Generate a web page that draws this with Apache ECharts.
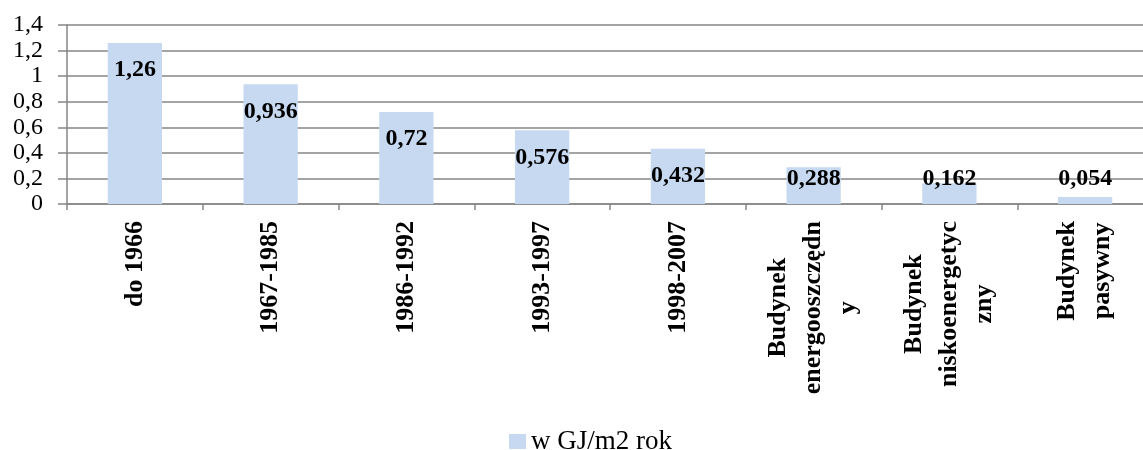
<!DOCTYPE html>
<html>
<head>
<meta charset="utf-8">
<script src="https://cdn.jsdelivr.net/npm/echarts@6/dist/echarts.min.js"></script>
<style>
html,body{margin:0;padding:0;background:#fff;overflow:hidden;width:1143px;height:450px;}
#chart{width:1153px;height:450px;}
</style>
</head>
<body>
<div id="chart"></div>
<script>
const categories = ["do 1966", "1967-1985", "1986-1992", "1993-1997", "1998-2007", "Budynek\nenergooszczędn\ny", "Budynek\nniskoenergetyc\nzny", "Budynek\npasywny"];
const values = [1.26, 0.936, 0.72, 0.576, 0.432, 0.288, 0.162, 0.054];
const seriesName = "w GJ/m2 rok";
const yMin = 0, yMax = 1.4, yInterval = 0.2;

const FONT = "'Liberation Serif', 'Times New Roman', serif";
const fmt = v => String(Math.round(v * 1000) / 1000).replace('.', ',');

const chart = echarts.init(document.getElementById('chart'), null, {renderer: 'canvas'});
chart.setOption({
  animation: false,
  backgroundColor: '#ffffff',
  grid: {left: 67, top: 25, right: 0, bottom: 246, containLabel: false},
  legend: {
    data: [seriesName],
    left: 504, top: 423,
    itemWidth: 17, itemHeight: 15, itemGap: 10,
    icon: 'rect',
    textStyle: {fontFamily: FONT, fontSize: 27, color: '#000'}
  },
  xAxis: {
    type: 'category',
    data: categories,
    axisLine: {lineStyle: {color: '#868686', width: 1.5}},
    axisTick: {show: true, length: 6, lineStyle: {color: '#868686', width: 1.5}},
    axisLabel: {
      interval: 0, rotate: 90, margin: 17,
      fontFamily: FONT, fontSize: 26, fontWeight: 'bold', color: '#000',
      formatter: v => v.split('\n').map(l => '{c|' + l + '}').join('\n'),
      rich: {c: {align: 'center', fontFamily: FONT, fontSize: 26, fontWeight: 'bold', color: '#000', lineHeight: 35}}
    }
  },
  yAxis: {
    type: 'value',
    min: yMin, max: yMax, interval: yInterval,
    axisLine: {show: true, lineStyle: {color: '#868686', width: 1.5}},
    axisTick: {show: true, length: 9, lineStyle: {color: '#868686', width: 1.5}},
    splitLine: {show: true, lineStyle: {color: '#868686', width: 1.5}},
    axisLabel: {
      margin: 24, fontFamily: FONT, fontSize: 24, color: '#000',
      formatter: v => fmt(v)
    }
  },
  series: [{
    name: seriesName,
    type: 'bar',
    barWidth: '40%',
    itemStyle: {color: '#c6d9f1'},
    data: values.map(v => ({
      value: v,
      label: v < 0.3 ? {position: 'insideBottom', distance: 13} : {position: 'insideTop', distance: 15}
    })),
    label: {
      show: true,
      fontFamily: FONT, fontSize: 24, fontWeight: 'bold', color: '#000',
      formatter: p => fmt(p.value)
    }
  }]
});
</script>
</body>
</html>
